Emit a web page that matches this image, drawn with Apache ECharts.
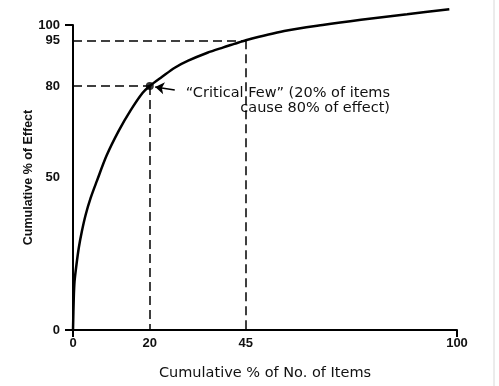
<!DOCTYPE html>
<html>
<head>
<meta charset="utf-8">
<script src="https://cdn.jsdelivr.net/npm/echarts@6/dist/echarts.min.js"></script>
<style>
  html, body { margin: 0; padding: 0; background: #fff; }
  #chart { width: 499px; height: 386px; }
</style>
</head>
<body>
<div id="chart"></div>
<script>
// curve: cumulative % of items -> cumulative % of effect
var itemPct   = [0, 0.2, 0.4, 0.9, 1.5, 2.3, 3.3, 4.6, 6.2, 8.75, 11.9, 15, 18.1, 20, 23.2, 26.5, 30, 35, 39, 42, 45, 55, 65, 75, 87, 98];
var effectPct = [0, 10.5, 15.9, 21.4, 26.9, 32.3, 37.8, 43.3, 48.8, 57.2, 65.3, 72, 77.7, 80, 83, 86, 88.3, 90.9, 92.6, 93.8, 95, 98, 100, 101.7, 103.5, 105.2];

var xTicks = [0, 20, 45, 100];
var yTicks = [0, 50, 80, 95, 100];
var endTicks = [0, 100];

// guide points (dashed lines down to the axes)
var guideX = [20, 45];
var guideY = [80, 95];
var critical = [20, 80];

var curve = itemPct.map(function (x, i) { return [x, effectPct[i]]; });

var guides = [];
guideX.forEach(function (gx, i) {
    guides.push([{ coord: [0, guideY[i]] }, { coord: [gx, guideY[i]] }]);
    guides.push([{ coord: [gx, guideY[i]] }, { coord: [gx, 0] }]);
});

var myChart = echarts.init(document.getElementById('chart'));
var option = {
    animation: false,
    backgroundColor: '#fff',
    grid: {
        left: 73,
        right: 42,
        top: 25,
        bottom: 51
    },
    xAxis: {
        type: 'value',
        min: 0,
        max: 100,
        name: 'Cumulative % of No. of Items',
        nameLocation: 'middle',
        nameGap: 36,
        nameTextStyle: {
            fontFamily: 'DejaVu Sans',
            fontSize: 14.5,
            color: '#111'
        },
        axisLine: { lineStyle: { color: '#000', width: 2 } },
        axisTick: {
            length: 7,
            customValues: endTicks,
            lineStyle: { color: '#000', width: 2 }
        },
        splitLine: { show: false },
        axisLabel: {
            customValues: xTicks,
            margin: 7,
            fontFamily: 'Liberation Sans',
            fontWeight: 'bold',
            fontSize: 13,
            color: '#111'
        }
    },
    yAxis: {
        type: 'value',
        min: 0,
        max: 100,
        name: 'Cumulative % of Effect',
        nameLocation: 'middle',
        nameGap: 38,
        nameMoveOverlap: false,
        nameTextStyle: {
            fontFamily: 'Liberation Sans',
            fontWeight: 'bold',
            fontSize: 12.5,
            color: '#111'
        },
        axisLine: { lineStyle: { color: '#000', width: 2 } },
        axisTick: {
            length: 8,
            customValues: endTicks,
            lineStyle: { color: '#000', width: 2 }
        },
        splitLine: { show: false },
        axisLabel: {
            customValues: yTicks,
            margin: 13,
            fontFamily: 'Liberation Sans',
            fontWeight: 'bold',
            fontSize: 13,
            color: '#111'
        }
    },
    series: [
        {
            type: 'line',
            data: curve,
            smooth: 0.3,
            clip: false,
            showSymbol: false,
            lineStyle: { color: '#000', width: 2.5 },
            markLine: {
                silent: true,
                symbol: 'none',
                label: { show: false },
                lineStyle: { color: '#000', width: 1.5, type: [9, 5] },
                data: guides
            }
        },
        {
            type: 'scatter',
            data: [critical],
            symbolSize: 8,
            itemStyle: { color: '#000' },
            markLine: {
                silent: true,
                symbol: ['none', 'arrow'],
                symbolSize: 9,
                label: { show: false },
                lineStyle: { color: '#000', width: 1.5, type: 'solid' },
                data: [[{ coord: [26.5, 78.7] }, { coord: [21.4, 79.7] }]]
            }
        }
    ],
    graphic: [
        {
            type: 'text',
            x: 390,
            y: 93,
            style: {
                text: '\u201cCritical Few\u201d (20% of items',
                align: 'right',
                verticalAlign: 'middle',
                fontFamily: 'DejaVu Sans',
                fontSize: 14.5,
                fill: '#111'
            }
        },
        {
            type: 'text',
            x: 390,
            y: 108,
            style: {
                text: 'cause 80% of effect)',
                align: 'right',
                verticalAlign: 'middle',
                fontFamily: 'DejaVu Sans',
                fontSize: 14.5,
                fill: '#111'
            }
        },
        {
            type: 'line',
            shape: { x1: 494, y1: 0, x2: 494, y2: 386 },
            style: { stroke: '#d8d8d8', lineWidth: 1 }
        }
    ]
};
myChart.setOption(option);
</script>
</body>
</html>
